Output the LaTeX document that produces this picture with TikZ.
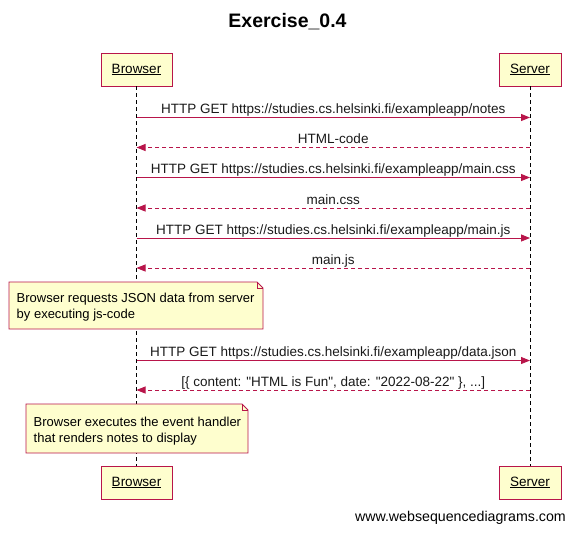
\documentclass[tikz,border=0pt]{standalone}
\usepackage{fontspec}
\setmainfont{Liberation Sans}
\usetikzlibrary{arrows.meta}
\definecolor{wsdred}{HTML}{B8154A}
\definecolor{wsdfill}{HTML}{FEFECE}
\tikzset{
  actor/.style={draw=wsdred, fill=wsdfill, line width=0.9pt, minimum height=33pt, inner sep=0pt, font=\fontsize{13.5}{15}\selectfont},
  lifeline/.style={draw=black, line width=0.8pt, dash pattern=on 4pt off 3pt},
  req/.style={draw=wsdred, line width=0.8pt, -{Triangle[length=9pt,width=7pt]}},
  resp/.style={draw=wsdred, line width=0.8pt, dash pattern=on 4pt off 3pt, -{Triangle[length=9pt,width=7pt]}},
  msglabel/.style={font=\fontsize{13.5}{15}\selectfont, inner sep=0pt, text=black!90, anchor=base, yshift=4pt},
  notetext/.style={font=\fontsize{13}{16}\selectfont, align=left, inner sep=0pt, anchor=base west},
  notepath/.style={draw=wsdred, fill=wsdfill, line width=0.8pt},
}
\begin{document}
\begin{tikzpicture}[x=1pt,y=-1pt]
\useasboundingbox (0,0) rectangle (575,533);
\node[font=\bfseries\fontsize{19.5}{22}\selectfont] (title) at (287.5,22) {Exercise\_0.4};
% actors
\node[actor, minimum width=71pt] (bt) at (136.5,69.5) {\underline{Browser}};
\node[actor, minimum width=62pt] (st) at (530,69.5) {\underline{Server}};
\node[actor, minimum width=71pt] (bb) at (136.5,482.5) {\underline{Browser}};
\node[actor, minimum width=62pt] (sb) at (530,482.5) {\underline{Server}};
% lifelines
\draw[lifeline] (bt.south) -- (bb.north);
\draw[lifeline] (st.south) -- (sb.north);
% message coordinates
\foreach \n/\y in {1/117.5,2/147.5,3/177.5,4/208,5/238,6/268,7/360.5,8/390} {
  \coordinate (b\n) at (136.5,\y);
  \coordinate (s\n) at (530,\y);
}
\draw[req] (b1) -- node[msglabel] (m1) {HTTP GET https://studies.cs.helsinki.fi/exampleapp/notes} (s1);
\draw[resp] (s2) -- node[msglabel] (m2) {HTML-code} (b2);
\draw[req] (b3) -- node[msglabel] (m3) {HTTP GET https://studies.cs.helsinki.fi/exampleapp/main.css} (s3);
\draw[resp] (s4) -- node[msglabel] (m4) {main.css} (b4);
\draw[req] (b5) -- node[msglabel] (m5) {HTTP GET https://studies.cs.helsinki.fi/exampleapp/main.js} (s5);
\draw[resp] (s6) -- node[msglabel] (m6) {main.js} (b6);
\draw[req] (b7) -- node[msglabel] (m7) {HTTP GET https://studies.cs.helsinki.fi/exampleapp/data.json} (s7);
\draw[resp] (s8) -- node[msglabel] (m8) {[\{ content: \textquotedbl HTML is Fun\textquotedbl, date: \textquotedbl 2022-08-22\textquotedbl\ \}, ...]} (b8);
% note 1
\coordinate (n1tl) at (9,282);
\coordinate (n1br) at (263,329);
\path[notepath] (n1tl) -- (257,282) -- (263,288) -- (n1br) -- (9,329) -- cycle;
\draw[wsdred, line width=0.6pt] (257,282) -- (257,288) -- (263,288);
\node[notetext] (n1) at (16.5,318) {Browser requests JSON data from server\\by executing js-code};
% note 2
\coordinate (n2tl) at (26,404);
\coordinate (n2br) at (248,453);
\path[notepath] (n2tl) -- (242,404) -- (248,410) -- (n2br) -- (26,453) -- cycle;
\draw[wsdred, line width=0.6pt] (242,404) -- (242,410) -- (248,410);
\node[notetext] (n2) at (33.5,442) {Browser executes the event handler\\that renders notes to display};
% watermark
\node[anchor=east, font=\fontsize{14.2}{16}\selectfont, inner sep=0pt] (wm) at (566,518) {www.websequencediagrams.com};
\end{tikzpicture}
\end{document}
